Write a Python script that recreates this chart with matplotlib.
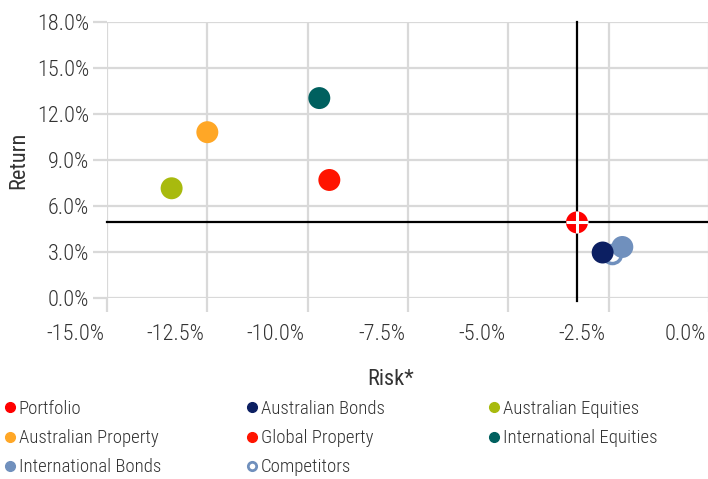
import matplotlib
matplotlib.use("Agg")
import matplotlib.pyplot as plt
from matplotlib import font_manager
from matplotlib.lines import Line2D
from matplotlib.ticker import FuncFormatter
from matplotlib.transforms import ScaledTranslation

# pick a narrow font if one is installed
names = sorted({f.name for f in font_manager.fontManager.ttflist})
family = "Roboto"
for cand in ["Roboto Condensed", "Liberation Sans Narrow", "Open Sans Condensed"]:
    if cand in names:
        family = cand
        break
plt.rcParams["font.family"] = [family, "DejaVu Sans"]
plt.rcParams["font.weight"] = 300

labels = ["Competitors", "International Bonds", "Australian Bonds", "Australian Equities",
          "Australian Property", "International Equities", "Global Property", "Portfolio"]
risk = [-2.42, -2.16, -2.65, -13.39, -12.50, -9.71, -9.46, -3.29]
ret = [2.88, 3.34, 2.98, 7.16, 10.81, 13.03, 7.70, 4.94]
colors = ["#7090bd", "#7090bd", "#0c1f62", "#a8ba0e", "#ffa726", "#00605f", "#ff1400", "#ff0000"]

x_ticks = [-15.0, -12.5, -10.0, -7.5, -5.0, -2.5, 0.0]
y_ticks = [0, 3, 6, 9, 12, 15, 18]

legend_cols = [["Portfolio", "Australian Property", "International Bonds"],
               ["Australian Bonds", "Global Property", "Competitors"],
               ["Australian Equities", "International Equities"]]

grid_c = "#d9d9d9"
text_c = "#333333"

fig = plt.figure(figsize=(7.08, 4.79), dpi=100)
ax = fig.add_axes([107 / 708, 180.7 / 479, 602 / 708, 276.6 / 479])
ax.set_xlim(-15, 0)
ax.set_ylim(0, 18)
ax.set_xticks(x_ticks)
ax.set_yticks(y_ticks)
ax.xaxis.set_major_formatter(FuncFormatter(lambda v, p: f"{v:.1f}%"))
ax.yaxis.set_major_formatter(FuncFormatter(lambda v, p: f"{v:.1f}%"))
for s in ax.spines.values():
    s.set_visible(False)
ax.grid(True, color=grid_c, lw=1.6, zorder=0)
ax.set_axisbelow(True)
ax.tick_params(axis="both", length=10, width=1.6, color=grid_c, labelsize=16,
               labelcolor=text_c)
ax.tick_params(axis="x", pad=8.5)
ax.tick_params(axis="y", pad=3)
shift = ScaledTranslation(-3 / 100, 0, fig.dpi_scale_trans)
for t in ax.get_xticklabels():
    t.set_ha("right")
    t.set_transform(t.get_transform() + shift)

# crosshair through the portfolio
px, py = risk[-1], ret[-1]
ax.plot([px, px], [-0.15, 18], color="black", lw=1.6, zorder=2, clip_on=False)
ax.plot([-15, 0.1], [py, py], color="black", lw=1.6, zorder=2, clip_on=False)

for i, (lab, x, y, c) in enumerate(zip(labels, risk, ret, colors)):
    if lab == "Competitors":
        ax.scatter(x, y, s=170, facecolor="white", edgecolor=c, lw=2.5, zorder=3 + i)
    else:
        ax.scatter(x, y, s=250, color=c, edgecolor="none", zorder=3 + i)
ax.scatter(px, py, s=230, marker="+", color="white", lw=2.2, zorder=20)

ax.set_xlabel("Risk*", fontsize=16, color=text_c)
ax.set_ylabel("Return", fontsize=16, color=text_c)
ax.xaxis.set_label_coords((391 - 107) / 602, -0.255)
ax.yaxis.set_label_coords((29 - 107) / 602, 0.5)

# legend: three columns placed at fixed positions
for col, x0 in zip(legend_cols, [1, 243, 485]):
    hs = []
    for lab in col:
        c = colors[labels.index(lab)]
        if lab == "Competitors":
            hs.append(Line2D([], [], ls="none", marker="o", ms=6, mfc="white", mec=c, mew=2))
        else:
            hs.append(Line2D([], [], ls="none", marker="o", ms=7, mfc=c, mec=c))
    fig.legend(hs, col, loc="upper left", bbox_to_anchor=(x0 / 708, 1 - 400 / 479),
               frameon=False, fontsize=13.5, handletextpad=-0.05, handlelength=1.0,
               labelspacing=0.6, borderaxespad=0, borderpad=0, labelcolor=text_c)

fig.savefig("out.png", dpi=100)
